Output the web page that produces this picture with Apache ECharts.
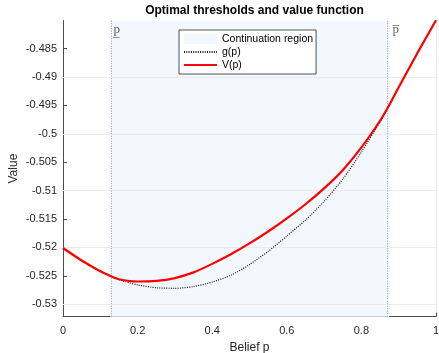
<!DOCTYPE html>
<html>
<head>
<meta charset="utf-8">
<script src="https://cdn.jsdelivr.net/npm/echarts@6/dist/echarts.min.js"></script>
<style>html,body{margin:0;padding:0;background:#fff}#chart{width:439px;height:353px}</style>
</head>
<body>
<div id="chart"></div>
<script>
// ---- data ----
const beliefP = [0, 0.05, 0.1, 0.126, 0.15, 0.2, 0.25, 0.3, 0.35, 0.4, 0.45, 0.5, 0.55, 0.6, 0.65, 0.7, 0.75, 0.8, 0.85, 0.874, 0.9, 0.95, 1];
const gValues = [-0.5201, -0.5223, -0.5242, -0.5250, -0.5257, -0.5266, -0.5271, -0.5272, -0.5269, -0.5261, -0.5249, -0.5230, -0.5207, -0.5180, -0.5152, -0.5119, -0.5080, -0.5032, -0.4979, -0.4950, -0.4918, -0.4858, -0.4800];
const vValues = [-0.5201, -0.5223, -0.5242, -0.5250, -0.5256, -0.5260, -0.5259, -0.5254, -0.5244, -0.5229, -0.5212, -0.5193, -0.5172, -0.5149, -0.5124, -0.5096, -0.5064, -0.5024, -0.4977, -0.4950, -0.4918, -0.4858, -0.4800];
const pLow = 0.126;
const pHigh = 0.874;
const thresholdNames = ['p\u0332', 'p\u0305'];
const yTicks = [-0.53, -0.525, -0.52, -0.515, -0.51, -0.505, -0.5, -0.495, -0.49, -0.485];
const yMin = -0.5322, yMax = -0.48005;
const xMin = 0, xMax = 1, xStep = 0.2;
const labelY = -0.4817;

const font = '"Liberation Sans", Arial, Helvetica, sans-serif';
const shade = '#f2f8fe';

const chart = echarts.init(document.getElementById('chart'), null, {renderer: 'canvas'});
chart.setOption({
  animation: false,
  backgroundColor: '#fff',
  title: {
    text: 'Optimal thresholds and value function',
    left: 249.5, top: 0, textAlign: 'center',
    textStyle: {fontFamily: font, fontSize: 12, fontWeight: 'bold', color: '#000'}
  },
  grid: {left: 63, right: 3, top: 20.5, bottom: 36.3, containLabel: false, outerBoundsMode: 'none'},
  legend: {
    orient: 'vertical', left: 179, top: 30,
    backgroundColor: '#fff', borderColor: '#262626', borderWidth: 0.8, borderRadius: 0,
    padding: [3, 3, 3, 4], itemGap: 1, itemWidth: 33, itemHeight: 10,
    textStyle: {fontFamily: font, fontSize: 10.5, color: '#000', lineHeight: 12},
    data: [
      {name: 'Continuation region', icon: 'rect', itemStyle: {color: shade, borderWidth: 0}},
      {name: 'g(p)', itemStyle: {opacity: 0}},
      {name: 'V(p)', itemStyle: {opacity: 0}}
    ]
  },
  xAxis: {
    type: 'value', min: xMin, max: xMax, interval: xStep,
    name: 'Belief p', nameLocation: 'middle', nameGap: 22,
    nameTextStyle: {fontFamily: font, fontSize: 12, color: '#262626'},
    axisLine: {show: true, lineStyle: {color: '#4d4d4d', width: 1}},
    axisTick: {show: true, inside: true, length: 4, lineStyle: {color: '#4d4d4d'}},
    axisLabel: {fontFamily: font, fontSize: 11, color: '#262626', margin: 9},
    splitLine: {show: true, lineStyle: {color: '#ebebeb', width: 1}}
  },
  yAxis: {
    type: 'value', min: yMin, max: yMax,
    name: 'Value', nameLocation: 'middle', nameGap: 43, nameMoveOverlap: false,
    nameTextStyle: {fontFamily: font, fontSize: 12, color: '#262626'},
    axisLine: {show: true, onZero: false, lineStyle: {color: '#4d4d4d', width: 1}},
    axisTick: {show: true, inside: true, length: 4, customValues: yTicks, lineStyle: {color: '#4d4d4d'}},
    axisLabel: {fontFamily: font, fontSize: 11, color: '#262626', margin: 6, customValues: yTicks},
    splitLine: {show: false}
  },
  series: [
    {
      name: 'Continuation region', type: 'line', symbol: 'none',
      itemStyle: {color: shade},
      lineStyle: {width: 0, opacity: 0},
      data: [[pLow, yMax], [pHigh, yMax]],
      z: 1,
      markArea: {
        silent: true,
        itemStyle: {color: shade},
        data: [[{xAxis: pLow}, {xAxis: pHigh}]]
      }
    },
    {
      name: 'gridlines', type: 'line', symbol: 'none', data: [], z: 2,
      markLine: {
        silent: true, symbol: 'none', label: {show: false},
        lineStyle: {color: '#ebebeb', width: 1, type: 'solid'},
        data: yTicks.map(v => ({yAxis: v}))
      }
    },
    {
      name: 'boundaries', type: 'line', symbol: 'none', data: [], z: 3,
      markLine: {
        silent: true, symbol: 'none', label: {show: false},
        lineStyle: {color: '#a0a0a0', width: 1, type: [1, 1.5]},
        data: [{xAxis: pLow}, {xAxis: pHigh}]
      }
    },
    {
      name: 'g(p)', type: 'line', symbol: 'none', smooth: 0.25, z: 5,
      itemStyle: {color: '#000'},
      lineStyle: {color: '#1a1a1a', width: 1.2, type: [1, 1.3]},
      data: beliefP.map((p, i) => [p, gValues[i]])
    },
    {
      name: 'V(p)', type: 'line', symbol: 'none', smooth: 0.25, z: 6,
      itemStyle: {color: '#ff0000'},
      lineStyle: {color: '#ff0000', width: 2.2},
      data: beliefP.map((p, i) => [p, vValues[i]])
    },
    {
      name: 'thresholds', type: 'scatter', symbolSize: 1, z: 7,
      itemStyle: {color: 'rgba(0,0,0,0)'},
      label: {
        show: true, position: 'right', distance: 3,
        fontFamily: '"Liberation Serif", "DejaVu Serif", serif', fontSize: 13, color: '#333',
        formatter: params => thresholdNames[params.dataIndex]
      },
      data: [[pLow, labelY], [pHigh, labelY]]
    }
  ]
});
</script>
</body>
</html>
